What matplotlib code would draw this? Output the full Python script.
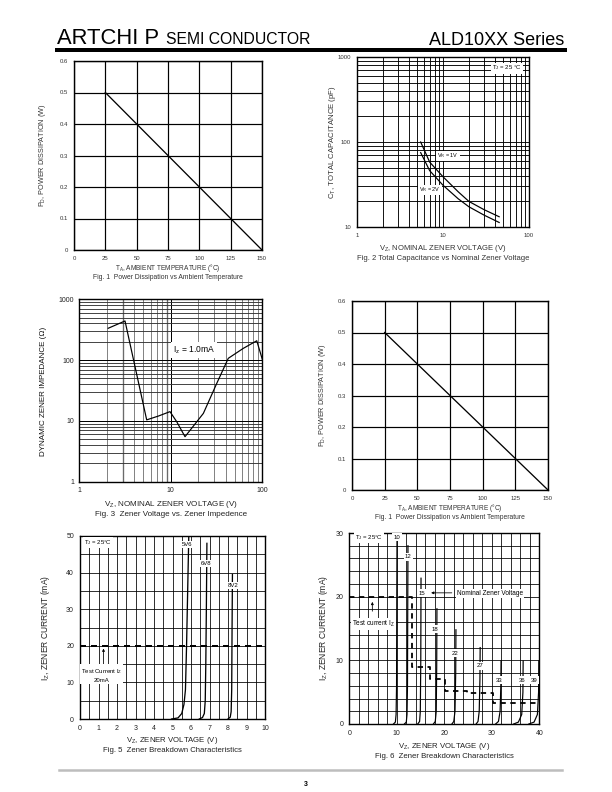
import numpy as np
import matplotlib.pyplot as plt
from matplotlib.lines import Line2D
from matplotlib.ticker import FixedLocator, NullFormatter

plt.rcParams['font.family'] = ['Liberation Sans', 'DejaVu Sans']
plt.rcParams['mathtext.fontset'] = 'custom'
plt.rcParams['mathtext.rm'] = 'Liberation Sans'

W, H = 612, 792

# Fig 1 / Fig 4: power derating
temp_c = [25, 150]
power_w = [0.5, 0.0]
temp_ticks = [0, 25, 50, 75, 100, 125, 150]
power_ticks = [0, 0.1, 0.2, 0.3, 0.4, 0.5, 0.6]

# Fig 2: total capacitance
vz_cap = [5.5, 7, 10, 15, 20, 30, 45]
ct_1v = [100, 58, 39, 26, 20, 16, 13.2]
ct_2v = [75, 46, 31, 21.5, 17.3, 13.8, 11.3]

# Fig 3: dynamic impedance at Iz = 1mA
vz_imp = [2.07, 3.16, 5.45, 7.3, 9.8, 11.6, 14.3, 22.7, 31.8, 42.5, 62, 87, 100]
zz_ohm = [334, 440, 10.4, 12, 14.2, 9.7, 5.5, 13.3, 41.5, 107, 156, 208, 103]

# Fig 5: breakdown curves 5V6 / 6V8 / 8V2
v_5v6 = [4.95, 5.3, 5.5, 5.62, 5.7, 5.76, 5.82, 5.88]
i_5v6 = [0, 0.3, 1.5, 4, 8, 20, 35, 50]
v_6v8 = [6.45, 6.62, 6.72, 6.77, 6.8, 6.83, 6.86]
i_6v8 = [0, 0.4, 1.5, 5, 15, 30, 48]
v_8v2 = [8.0, 8.12, 8.17, 8.2, 8.22, 8.24]
i_8v2 = [0, 0.5, 2, 8, 25, 39.5]
test_current_5 = 20

# Fig 6: breakdown curves 10V .. 39V
fig6_curves = {
    '10': ([9.3, 9.7, 9.85, 9.95, 10.0, 10.05], [0, 0.3, 1.5, 6, 20, 30]),
    '12': ([11.6, 12.0, 12.15, 12.25, 12.3, 12.35], [0, 0.3, 1.5, 6, 18, 28]),
    '15': ([14.4, 14.8, 14.95, 15.05, 15.1], [0, 0.4, 2, 10, 22.9]),
    '18': ([17.7, 18.1, 18.3, 18.4, 18.45], [0, 0.4, 2, 9, 18.1]),
    '22': ([21.6, 22.0, 22.25, 22.4, 22.45], [0, 0.4, 2, 8, 14.8]),
    '27': ([26.7, 27.1, 27.35, 27.5, 27.55], [0, 0.4, 2, 7, 12]),
    '33': ([30.8, 31.4, 31.75, 31.9, 31.95], [0, 0.4, 2, 6, 9.9]),
    '36': ([34.6, 35.6, 36.3, 36.55, 36.6], [0, 0.3, 1.5, 5, 9.9]),
    '39': ([37.8, 38.9, 39.6, 39.85, 39.9], [0, 0.3, 1.5, 5, 9.9]),
}
# label positions (axes fraction) for fig 6 curves
fig6_labels = {
    '10': (0.253, 0.977), '12': (0.311, 0.876), '15': (0.381, 0.684),
    '18': (0.451, 0.497), '22': (0.556, 0.370), '27': (0.688, 0.304),
    '33': (0.789, 0.230), '36': (0.911, 0.230), '39': (0.974, 0.230),
}
step_v = [0, 13.1, 13.1, 17.0, 17.0, 20.1, 20.1, 24.7, 24.7, 30.3, 30.3, 40]
step_i = [20, 20, 9.0, 9.0, 7.1, 7.1, 5.2, 5.2, 4.8, 4.8, 3.35, 3.35]

fig = plt.figure(figsize=(W / 72, H / 72), dpi=72)


def box(l, t, r, b):
    return [l / W, 1 - b / H, (r - l) / W, (b - t) / H]


def ftext(x, y, s, **kw):
    kw.setdefault('ha', 'center')
    kw.setdefault('va', 'center')
    fig.text(x / W, 1 - y / H, s, **kw)


def style(ax, lw=1.4):
    for sp in ax.spines.values():
        sp.set_linewidth(lw)
        sp.set_color('black')
    ax.set_axisbelow(True)


wbox = dict(facecolor='white', edgecolor='none', pad=1.0)

# ---- header ----
ftext(57, 44, 'ARTCHI P', fontsize=22, ha='left', va='baseline')
ftext(166, 44, 'SEMI CONDUCTOR', fontsize=15.8, ha='left', va='baseline')
ftext(564, 45, 'ALD10XX Series', fontsize=18, ha='right', va='baseline')
fig.add_artist(Line2D([57 / W, 565 / W], [1 - 49.5 / H] * 2, lw=4, color='black'))

# ---- Fig 1 and Fig 4 ----
for (l, t, r, b), ylx, xly, cap in [((74, 61, 262, 250), 43, 268.5, 277.5),
                                     ((352, 301, 548, 490), 323, 508.5, 517.5)]:
    ax = fig.add_axes(box(l, t, r, b))
    ax.plot(temp_c, power_w, color='black', lw=1.3)
    ax.set_xlim(0, 150)
    ax.set_ylim(0, 0.6)
    ax.set_xticks(temp_ticks)
    ax.set_yticks(power_ticks)
    ax.set_yticklabels(['0', '0.1', '0.2', '0.3', '0.4', '0.5', '0.6'])
    ax.grid(True, color='black', lw=1.2)
    ax.tick_params(length=0, labelsize=6, pad=6, colors='#333')
    style(ax)
    cx = (l + r) / 2
    ftext(cx, xly, 'T$_\\mathregular{A}$, AMBIENT TEMPERATURE (\u00b0C)', fontsize=6.5, color='#333')
    ftext(cx, cap, 'Fig. 1  Power Dissipation vs Ambient Temperature', fontsize=6.8, color='#333')
    ftext(ylx, (t + b) / 2, 'P$_\\mathregular{D}$, POWER DISSIPATION (W)', fontsize=7.2, rotation=90, color='#333')

# ---- Fig 2 ----
ax2 = fig.add_axes(box(357, 57, 529, 227))
ax2.plot(vz_cap, ct_1v, color='black', lw=1.2)
ax2.plot(vz_cap, ct_2v, color='black', lw=1.2)
ax2.set_xscale('log')
ax2.set_yscale('log')
ax2.set_xlim(1, 100)
ax2.set_ylim(10, 1000)
ax2.set_xticks([1, 10, 100])
ax2.set_xticklabels(['1', '10', '100'])
ax2.set_yticks([10, 100, 1000])
ax2.set_yticklabels(['10', '100', '1000'])
ax2.xaxis.set_minor_formatter(NullFormatter())
ax2.yaxis.set_minor_formatter(NullFormatter())
ax2.grid(True, which='both', color='black', lw=0.9)
ax2.tick_params(which='both', length=0, labelsize=6, pad=6, colors='#333')
style(ax2)
ax2.text(0.872, 0.935, 'T$_\\mathregular{J}$ = 25 \u00b0C', transform=ax2.transAxes, fontsize=6,
         ha='center', va='center', bbox=wbox)
ax2.text(0.529, 0.418, 'V$_\\mathregular{R}$ = 1V', transform=ax2.transAxes, fontsize=5.5,
         ha='center', va='center', bbox=wbox)
ax2.text(0.424, 0.218, 'V$_\\mathregular{R}$ = 2V', transform=ax2.transAxes, fontsize=5.5,
         ha='center', va='center', bbox=wbox)
ftext(443, 248, 'V$_\\mathregular{Z}$, NOMINAL ZENER VOLTAGE (V)', fontsize=7.6, color='#333')
ftext(443, 258, 'Fig. 2 Total Capacitance vs Nominal Zener Voltage', fontsize=7.6, color='#333')
ftext(333, 142, 'C$_\\mathregular{T}$, TOTAL CAPACITANCE (pF)', fontsize=7.8, rotation=90, color='#333')

# ---- Fig 3 ----
ax3 = fig.add_axes(box(79.3, 299.3, 262.3, 481.7))
ax3.plot(vz_imp, zz_ohm, color='black', lw=1.2)
ax3.set_xscale('log')
ax3.set_yscale('log')
ax3.set_xlim(1, 100)
ax3.set_ylim(1, 1000)
ax3.set_xticks([1, 10, 100])
ax3.set_xticklabels(['1', '10', '100'])
ax3.set_yticks([1, 10, 100, 1000])
ax3.set_yticklabels(['1', '10', '100', '1000'])
ax3.xaxis.set_minor_formatter(NullFormatter())
ax3.yaxis.set_minor_formatter(NullFormatter())
ax3.grid(True, which='major', color='black', lw=1.0)
ax3.grid(True, which='minor', axis='y', color='#333', lw=0.9)
ax3.grid(True, which='minor', axis='x', color='#777', lw=0.9)
ax3.tick_params(which='both', length=0, labelsize=7, pad=5, colors='#222')
style(ax3)
for xv in (3, 9):
    ax3.axvline(xv, color='black', lw=1.2, zorder=0.5)
ax3.text(0.627, 0.722, 'I$_\\mathregular{z}$ = 1.0mA', transform=ax3.transAxes, fontsize=8.5,
         ha='center', va='center', bbox=dict(facecolor='white', edgecolor='none', pad=2))
ftext(171, 504, 'V$_\\mathregular{Z}$, NOMINAL ZENER VOLTAGE (V)', fontsize=8, color='#222')
ftext(171, 514, 'Fig. 3  Zener Voltage vs. Zener Impedence', fontsize=8, color='#222')
ftext(44, 391, 'DYNAMIC ZENER IMPEDANCE (\u03a9)', fontsize=8, rotation=90, color='#111')

# ---- Fig 5 ----
ax5 = fig.add_axes(box(80, 536, 265, 719))
for v, i in [(v_5v6, i_5v6), (v_6v8, i_6v8), (v_8v2, i_8v2)]:
    ax5.plot(v, i, color='black', lw=1.3)
ax5.axhline(test_current_5, color='black', lw=2, dashes=(3, 2.5))
ax5.set_xlim(0, 10)
ax5.set_ylim(0, 50)
ax5.set_xticks(range(0, 11))
ax5.set_yticks(range(0, 51, 10))
ax5.xaxis.set_minor_locator(FixedLocator(np.arange(0.5, 10, 1)))
ax5.yaxis.set_minor_locator(FixedLocator(range(5, 50, 10)))
ax5.grid(True, which='both', color='black', lw=0.8)
ax5.tick_params(which='both', length=0, labelsize=7, pad=6, colors='#222')
style(ax5)
ax5.annotate('', xy=(1.27, 19.8), xytext=(1.27, 14.3),
             arrowprops=dict(arrowstyle='-|>', color='black', lw=0.8, mutation_scale=5))
ax5.text(0.115, 0.24, 'Test Current I$_\\mathregular{Z}$\n20mA', transform=ax5.transAxes, fontsize=6,
         ha='center', va='center', linespacing=1.5, bbox=wbox)
ax5.text(0.02, 0.965, 'T$_\\mathregular{J}$ = 25\u00b0C', transform=ax5.transAxes, fontsize=6,
         ha='left', va='center', bbox=wbox)
for s, (x, y) in [('5V6', (0.577, 0.951)), ('6V8', (0.681, 0.851)), ('8V2', (0.829, 0.732))]:
    ax5.text(x, y, s, transform=ax5.transAxes, fontsize=6, ha='center', va='center', bbox=wbox)
ftext(172, 741, 'V$_\\mathregular{Z}$, ZENER VOLTAGE (V)', fontsize=7.8, color='#222')
ftext(172, 751, 'Fig. 5  Zener Breakdown Characteristics', fontsize=7.8, color='#222')
ftext(45, 628, 'I$_\\mathregular{Z}$, ZENER CURRENT (mA)', fontsize=8.5, rotation=90, color='#222')

# ---- Fig 6 ----
ax6 = fig.add_axes(box(349.3, 533, 539.3, 724))
for name, (v, i) in fig6_curves.items():
    ax6.plot(v, i, color='black', lw=1.2)
ax6.plot(step_v, step_i, color='black', lw=1.8, dashes=(3, 2.5))
ax6.set_xlim(0, 40)
ax6.set_ylim(0, 30)
ax6.set_xticks(range(0, 41, 10))
ax6.set_yticks(range(0, 31, 10))
ax6.xaxis.set_minor_locator(FixedLocator(range(2, 40, 2)))
ax6.yaxis.set_minor_locator(FixedLocator(range(2, 30, 2)))
ax6.grid(True, which='both', color='black', lw=0.8)
ax6.tick_params(which='both', length=0, labelsize=7, pad=6, colors='#222')
style(ax6)
for name, (x, y) in fig6_labels.items():
    ax6.text(x, y, name, transform=ax6.transAxes, fontsize=6, ha='center', va='center',
             bbox=dict(facecolor='white', edgecolor='none', pad=1.5))
ax6.text(0.03, 0.977, 'T$_\\mathregular{J}$ = 25\u00b0C', transform=ax6.transAxes, fontsize=6,
         ha='left', va='center', bbox=wbox)
ax6.text(0.741, 0.684, 'Nominal Zener Voltage', transform=ax6.transAxes, fontsize=6.5,
         ha='center', va='center', bbox=wbox)
ax6.annotate('', xy=(16.8, 20.6), xytext=(22.0, 20.6),
             arrowprops=dict(arrowstyle='-|>', color='black', lw=0.8, mutation_scale=5))
ax6.annotate('', xy=(4.85, 19.5), xytext=(4.85, 17.4),
             arrowprops=dict(arrowstyle='-|>', color='black', lw=0.8, mutation_scale=5))
ax6.text(0.126, 0.524, 'Test current I$_\\mathregular{Z}$', transform=ax6.transAxes, fontsize=6.5,
         ha='center', va='center', bbox=wbox)
ftext(444, 746, 'V$_\\mathregular{Z}$, ZENER VOLTAGE (V)', fontsize=7.8, color='#222')
ftext(444, 757, 'Fig. 6  Zener Breakdown Characteristics', fontsize=7.8, color='#222')
ftext(323, 628, 'I$_\\mathregular{Z}$, ZENER CURRENT (mA)', fontsize=8.5, rotation=90, color='#222')

# ---- footer ----
fig.add_artist(Line2D([59 / W, 562 / W], [1 - 769.5 / H] * 2, lw=2.5, color='#bdbdbd'))
ftext(306, 784, '3', fontsize=7, fontweight='bold')

fig.savefig('out.png', dpi=72)
